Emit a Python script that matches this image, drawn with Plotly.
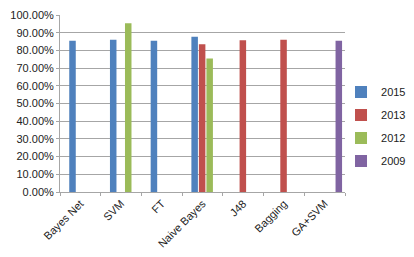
import plotly.graph_objects as go

categories = ["Bayes Net", "SVM", "FT", "Naive Bayes", "J48", "Bagging", "GA+SVM"]
s2015 = [0.855, 0.86, 0.855, 0.877, None, None, None]
s2013 = [None, None, None, 0.835, 0.858, 0.86, None]
s2012 = [None, 0.953, None, 0.754, None, None, None]
s2009 = [None, None, None, None, None, None, 0.855]
series_names = ["2015", "2013", "2012", "2009"]
colors = ["#4F81BD", "#C0504D", "#9BBB59", "#8064A2"]
offsets = [-0.273, -0.089, 0.096, 0.268]

fig = go.Figure()
for name, vals, c, off in zip(series_names, [s2015, s2013, s2012, s2009], colors, offsets):
    fig.add_trace(go.Bar(
        x=categories, y=vals, name=name, legendgroup=name,
        marker=dict(color=c, line=dict(color=c, width=0)),
        width=0.16, offset=off,
    ))

# the page body adds an 8px margin, so the figure is 8px smaller than the window
fig.update_layout(
    width=406, height=249,
    barmode="overlay",
    margin=dict(l=52, r=69, t=7, b=65, autoexpand=False),
    paper_bgcolor="white", plot_bgcolor="white",
    font=dict(family="Liberation Sans, Arial, sans-serif", size=11, color="#222"),
    showlegend=True,
    legend=dict(x=0.986, y=0.37, xanchor="left", yanchor="middle",
                font=dict(size=11), traceorder="grouped", tracegroupgap=4,
                itemwidth=30, bgcolor="rgba(0,0,0,0)"),
)
fig.update_yaxes(range=[0, 1], dtick=0.1, tickformat=".2%",
                 showgrid=True, gridcolor="#a6a6a6", gridwidth=1,
                 showline=True, linecolor="#a6a6a6", ticks="outside",
                 ticklen=3, tickcolor="#a6a6a6", zeroline=False,
                 tickfont=dict(size=11), automargin=False)
fig.update_xaxes(tickangle=-45, showline=True, linecolor="#a6a6a6",
                 ticks="outside", tickson="boundaries", ticklen=3,
                 tickcolor="#a6a6a6", tickfont=dict(size=11),
                 range=[-0.5, 6.5], automargin=False)

fig.write_html("out.html")
